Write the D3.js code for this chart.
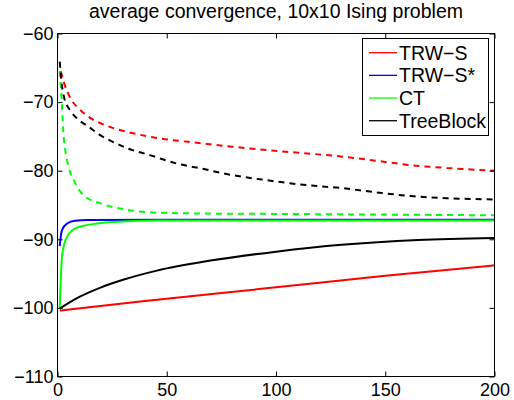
<!DOCTYPE html>
<html>
<head>
<meta charset="utf-8">
<script src="https://cdn.jsdelivr.net/npm/d3@7"></script>
<style>
  body { margin: 0; background: #fff; }
  svg { font-family: "Liberation Sans", Arial, Helvetica, sans-serif; }
</style>
</head>
<body>
<div id="chart"></div>
<script>
// values (iteration, bound / energy)
var trwsLowerX = [1, 40, 100, 150, 200];
var trwsLowerY = [-100.4, -99, -97, -95.3, -93.8];
var trwsEnergyX = [1.5, 3, 6, 9, 14, 23, 34, 45, 66, 80, 96, 111, 132, 147, 162, 178, 200];
var trwsEnergyY = [-65.5, -67.2, -69.5, -70.7, -72.1, -73.5, -74.5, -75.2, -76, -76.5, -77, -77.4, -78, -78.6, -79.2, -79.6, -80];

var trwsStarLowerX = [1, 2, 4.4, 8, 14, 50, 200];
var trwsStarLowerY = [-91, -88.7, -87.7, -87.3, -87.2, -87.15, -87.15];

var ctLowerX = [1, 1.5, 2, 3.4, 5.2, 8.2, 14, 23.5, 45, 200];
var ctLowerY = [-100, -96, -92.6, -90.4, -89.2, -88.4, -87.9, -87.5, -87.25, -87.25];
var ctEnergyX = [1, 1.8, 2.6, 4.4, 7.5, 12, 20, 32, 44, 70, 100, 150, 200];
var ctEnergyY = [-65.5, -69, -74, -78.5, -81.4, -83.6, -84.8, -85.7, -86.1, -86.25, -86.3, -86.4, -86.5];

var tbLowerX = [1, 5, 10, 20, 30, 45, 70, 100, 130, 165, 200];
var tbLowerY = [-100.1, -99.3, -98.4, -97, -95.9, -94.6, -93.1, -91.8, -90.8, -90.1, -89.8];
var tbEnergyX = [1, 2, 3, 6, 9.7, 14.3, 19, 23.5, 32.6, 43, 54, 66, 81, 96, 111, 132, 147, 162, 178, 200];
var tbEnergyY = [-64.1, -67.5, -69.3, -71.3, -72.6, -73.6, -74.7, -75.5, -76.8, -77.8, -78.9, -79.7, -80.7, -81.4, -82, -82.6, -83.2, -83.7, -84, -84.2];

var legendNames = ["TRW\u2212S", "TRW\u2212S*", "CT", "TreeBlock"];
var legendColors = ["#ff0000", "#0000ff", "#00ff00", "#000000"];
var xTicks = [0, 50, 100, 150, 200];
var yTicks = [-110, -100, -90, -80, -70, -60];

var width = 514, height = 400;
var plotLeft = 57.5, plotRight = 494.5, plotTop = 33.5, plotBottom = 376.5;

var svg = d3.select("#chart").append("svg")
    .attr("width", width)
    .attr("height", height);

var x = d3.scaleLinear().domain([0, 200]).range([plotLeft, plotRight]);
var y = d3.scaleLinear().domain([-110, -60]).range([plotBottom, plotTop]);

function zip(xs, ys) {
  return xs.map(function(v, i) { return [v, ys[i]]; });
}

var series = [
  {pts: zip(trwsLowerX, trwsLowerY), color: legendColors[0], dash: null},
  {pts: zip(trwsEnergyX, trwsEnergyY), color: legendColors[0], dash: "6,5"},
  {pts: zip(trwsStarLowerX, trwsStarLowerY), color: legendColors[1], dash: null},
  {pts: zip(ctLowerX, ctLowerY), color: legendColors[2], dash: null},
  {pts: zip(ctEnergyX, ctEnergyY), color: legendColors[2], dash: "6,5"},
  {pts: zip(tbLowerX, tbLowerY), color: legendColors[3], dash: null},
  {pts: zip(tbEnergyX, tbEnergyY), color: legendColors[3], dash: "6,5"}
];

var line = d3.line()
    .x(function(d) { return x(d[0]); })
    .y(function(d) { return y(d[1]); })
    .curve(d3.curveMonotoneX);

svg.append("g").selectAll("path")
    .data(series)
    .enter().append("path")
    .attr("d", function(d) { return line(d.pts); })
    .attr("fill", "none")
    .attr("stroke", function(d) { return d.color; })
    .attr("stroke-width", 2)
    .attr("stroke-dasharray", function(d) { return d.dash; });

// axes, ticks pointing inwards
function styleAxis(g) {
  g.select(".domain").remove();
  g.selectAll(".tick line").attr("stroke", "#000");
  g.selectAll("text").attr("fill", "#000").style("font-size", "18px");
}

svg.append("g")
    .attr("transform", "translate(0," + plotBottom + ")")
    .call(d3.axisBottom(x).tickValues(xTicks).tickSize(-5).tickPadding(7))
    .call(styleAxis);
svg.append("g")
    .attr("transform", "translate(0," + plotTop + ")")
    .call(d3.axisTop(x).tickValues(xTicks).tickSize(-5).tickFormat(""))
    .call(styleAxis);
svg.append("g")
    .attr("transform", "translate(" + plotLeft + ",0)")
    .call(d3.axisLeft(y).tickValues(yTicks).tickSize(-5).tickPadding(4))
    .call(styleAxis);
svg.append("g")
    .attr("transform", "translate(" + plotRight + ",0)")
    .call(d3.axisRight(y).tickValues(yTicks).tickSize(-5).tickFormat(""))
    .call(styleAxis);

svg.append("rect")
    .attr("x", plotLeft).attr("y", plotTop)
    .attr("width", plotRight - plotLeft).attr("height", plotBottom - plotTop)
    .attr("fill", "none")
    .attr("stroke", "#000");

svg.append("text")
    .attr("x", (plotLeft + plotRight) / 2)
    .attr("y", 18)
    .attr("text-anchor", "middle")
    .style("font-size", "19.5px")
    .text("average convergence, 10x10 Ising problem");

// legend
var lg = svg.append("g");
lg.append("rect")
    .attr("x", 362.5).attr("y", 38.5)
    .attr("width", 126).attr("height", 97)
    .attr("fill", "#fff")
    .attr("stroke", "#000");

var item = lg.selectAll(".item")
    .data(legendNames)
    .enter().append("g")
    .attr("class", "item")
    .attr("transform", function(d, i) { return "translate(0," + (52.7 + i * 22.67) + ")"; });

item.append("line")
    .attr("x1", 369).attr("x2", 397)
    .attr("stroke", function(d, i) { return legendColors[i]; })
    .attr("stroke-width", 1.3);

item.append("text")
    .attr("x", 399)
    .attr("dy", "0.35em")
    .style("font-size", "19.5px")
    .text(function(d) { return d; });
</script>
</body>
</html>
